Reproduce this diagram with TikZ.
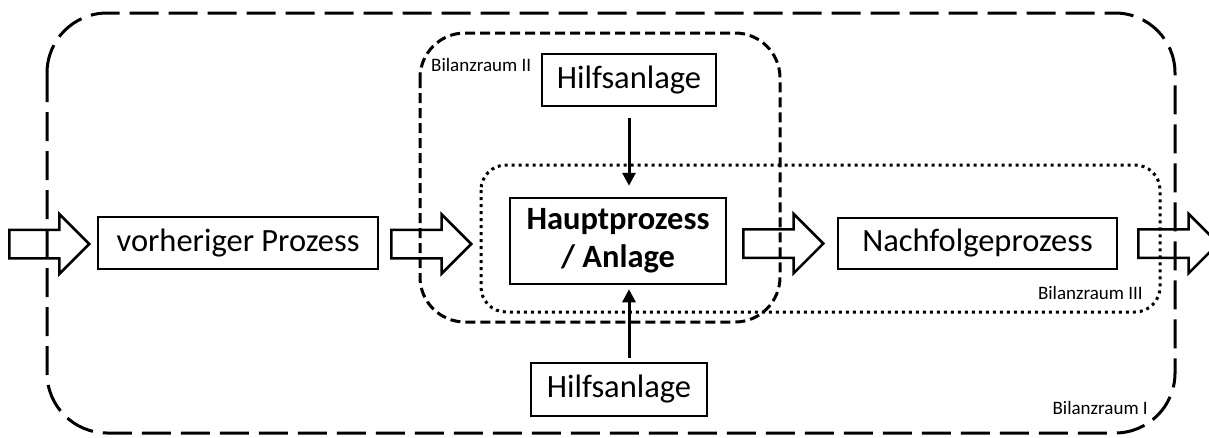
\documentclass[tikz,border=0pt]{standalone}
\usepackage{fontspec}
\setmainfont{Carlito}
\usetikzlibrary{shapes.arrows,arrows.meta}

\begin{document}
\begin{tikzpicture}[x=1pt,y=-1pt,
  every node/.style={font=\fontsize{32.5}{38}\selectfont},
  procbox/.style={draw,line width=2.5pt,inner sep=0pt,align=center},
  fatarrow/.style={draw,line width=2.5pt,shape=single arrow,inner xsep=0pt,
    inner ysep=13pt,single arrow head extend=15.5pt,minimum height=80pt,anchor=tail},
  flow/.style={line width=3pt,-{Triangle[length=13pt,width=13pt]}},
  zonelabel/.style={font=\fontsize{19}{22}\selectfont,inner sep=0pt},
  zoneI/.style={line width=3pt,dash pattern=on 29pt off 10pt,rounded corners=60pt},
  zoneII/.style={line width=3pt,dash pattern=on 10pt off 5pt,rounded corners=45pt},
  zoneIII/.style={line width=3pt,dash pattern=on 3pt off 4pt,rounded corners=25pt},
]
\clip (0,0) rectangle (1209,437);

% balance boundaries
\draw[zoneI]   (47,13)  rectangle (1175,433);
\draw[zoneII]  (420,33) rectangle (780,322);
\draw[zoneIII] (481,165) rectangle (1160,312);

% processes
\node[procbox,minimum width=280pt,minimum height=52pt] (prev) at (238,243) {vorheriger Prozess};
\node[procbox,minimum width=174pt,minimum height=52pt] (auxtop) at (629,80) {Hilfsanlage};
\node[procbox,minimum width=216pt,minimum height=86pt,
      font=\fontsize{32.5}{38}\selectfont\bfseries] (main) at (618,241) {Hauptprozess\\/ Anlage};
\node[procbox,minimum width=279pt,minimum height=51pt] (next) at (977.5,243.5) {Nachfolgeprozess};
\node[procbox,minimum width=176pt,minimum height=53pt] (auxbot) at (619,389.5) {Hilfsanlage};

% material flow
\node[fatarrow] (in)  at (8,244) {};
\node[fatarrow] (p2m) at (390,244) {};
\node[fatarrow] (m2n) at (742,243.5) {};
\node[fatarrow] (out) at (1137,243.5) {};

% auxiliary supply
\draw[flow,shorten <=11pt,shorten >=11pt] (auxtop.south) -- (main.north -| auxtop.south);
\draw[flow,shorten <=4pt,shorten >=4pt] (auxbot.north -| auxtop.south) -- (main.south -| auxtop.south);

% boundary labels
\node[zonelabel,anchor=west] (lblII)  at (431,65)  {Bilanzraum II};
\node[zonelabel,anchor=east] (lblIII) at (1143,293) {Bilanzraum III};
\node[zonelabel,anchor=east] (lblI)   at (1148,408) {Bilanzraum I};
\end{tikzpicture}
\end{document}
